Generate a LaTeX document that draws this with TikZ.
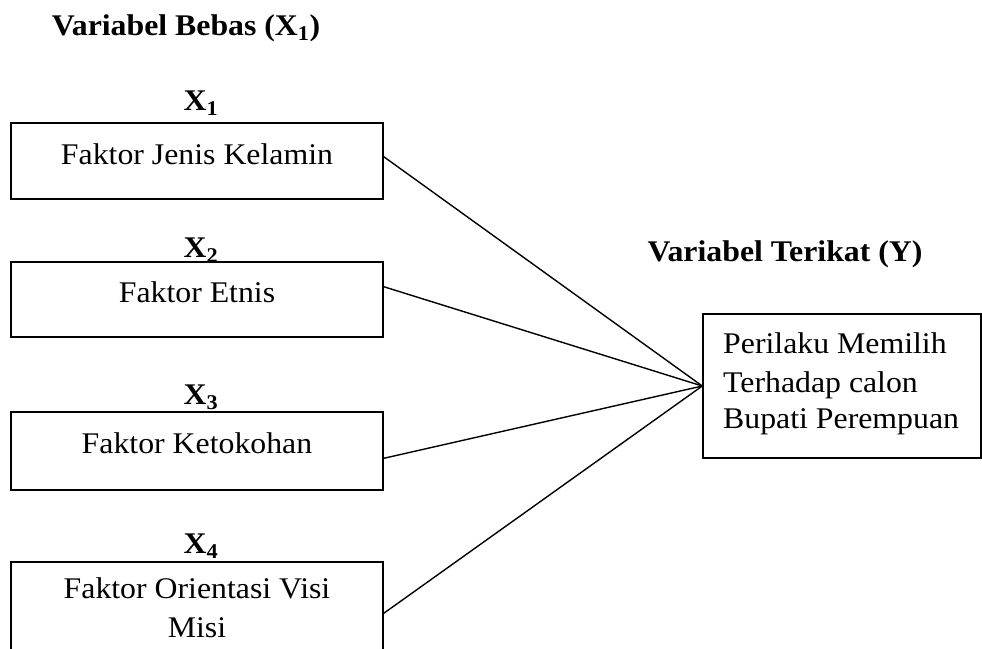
\documentclass[tikz,border=0pt]{standalone}
\usepackage{fontspec}
\setmainfont{Liberation Serif}
\newcommand{\wx}[1]{\scalebox{1.06}[1]{#1}}
\begin{document}
\begin{tikzpicture}[x=1pt,y=1pt,
  every node/.style={font=\fontsize{30}{36}\selectfont},
  boxst/.style={draw,line width=1.5pt,rectangle,inner sep=0pt},
  txt/.style={anchor=base,inner sep=0pt},
  ttl/.style={anchor=base,inner sep=0pt,font=\fontsize{30}{36}\selectfont\bfseries},
  conn/.style={line width=1.4pt}]
\useasboundingbox (0,0) rectangle (982,-648);
\clip (0,0) rectangle (982,-648);
\fill[white] (0,0) rectangle (982,-648);
% left boxes
\node[boxst,minimum width=372pt,minimum height=76pt] (b1) at (197,-161) {};
\node[boxst,minimum width=372pt,minimum height=75pt] (b2) at (197,-299.5) {};
\node[boxst,minimum width=372pt,minimum height=78pt] (b3) at (197,-451) {};
\node[boxst,minimum width=372pt,minimum height=138pt] (b4) at (197,-631) {};
% right box
\node[boxst,minimum width=278pt,minimum height=144pt] (y) at (842,-386) {};
% titles
\node[ttl] (tb) at (186,-35) {\wx{Variabel Bebas (X\textsubscript{1})}};
\node[ttl] (tt) at (785,-261) {\wx{Variabel Terikat (Y)}};
% X labels
\node[ttl] (x1) at (201,-110) {\wx{X\textsubscript{1}}};
\node[ttl] (x2) at (201,-257) {\wx{X\textsubscript{2}}};
\node[ttl] (x3) at (201,-404) {\wx{X\textsubscript{3}}};
\node[ttl] (x4) at (201,-553) {\wx{X\textsubscript{4}}};
% box texts
\node[txt] (l1) at (197,-164) {\wx{Faktor Jenis Kelamin}};
\node[txt] (l2) at (197,-302) {\wx{Faktor Etnis}};
\node[txt] (l3) at (197,-453) {\wx{Faktor Ketokohan}};
\node[txt] (l4a) at (197,-598) {\wx{Faktor Orientasi Visi}};
\node[txt] (l4b) at (197,-637) {\wx{Misi}};
\node[txt,anchor=base west] (r1) at (723,-353) {\wx{Perilaku Memilih}};
\node[txt,anchor=base west] (r2) at (723,-392) {\wx{Terhadap calon}};
\node[txt,anchor=base west] (r3) at (723,-428) {\wx{Bupati Perempuan}};
% connectors
\draw[conn] ([yshift=4.3pt]b1.east) -- (y.west);
\draw[conn] ([yshift=12.8pt]b2.east) -- (y.west);
\draw[conn] ([yshift=-7.3pt]b3.east) -- (y.west);
\draw[conn] ([yshift=17.7pt]b4.east) -- (y.west);
\end{tikzpicture}
\end{document}
